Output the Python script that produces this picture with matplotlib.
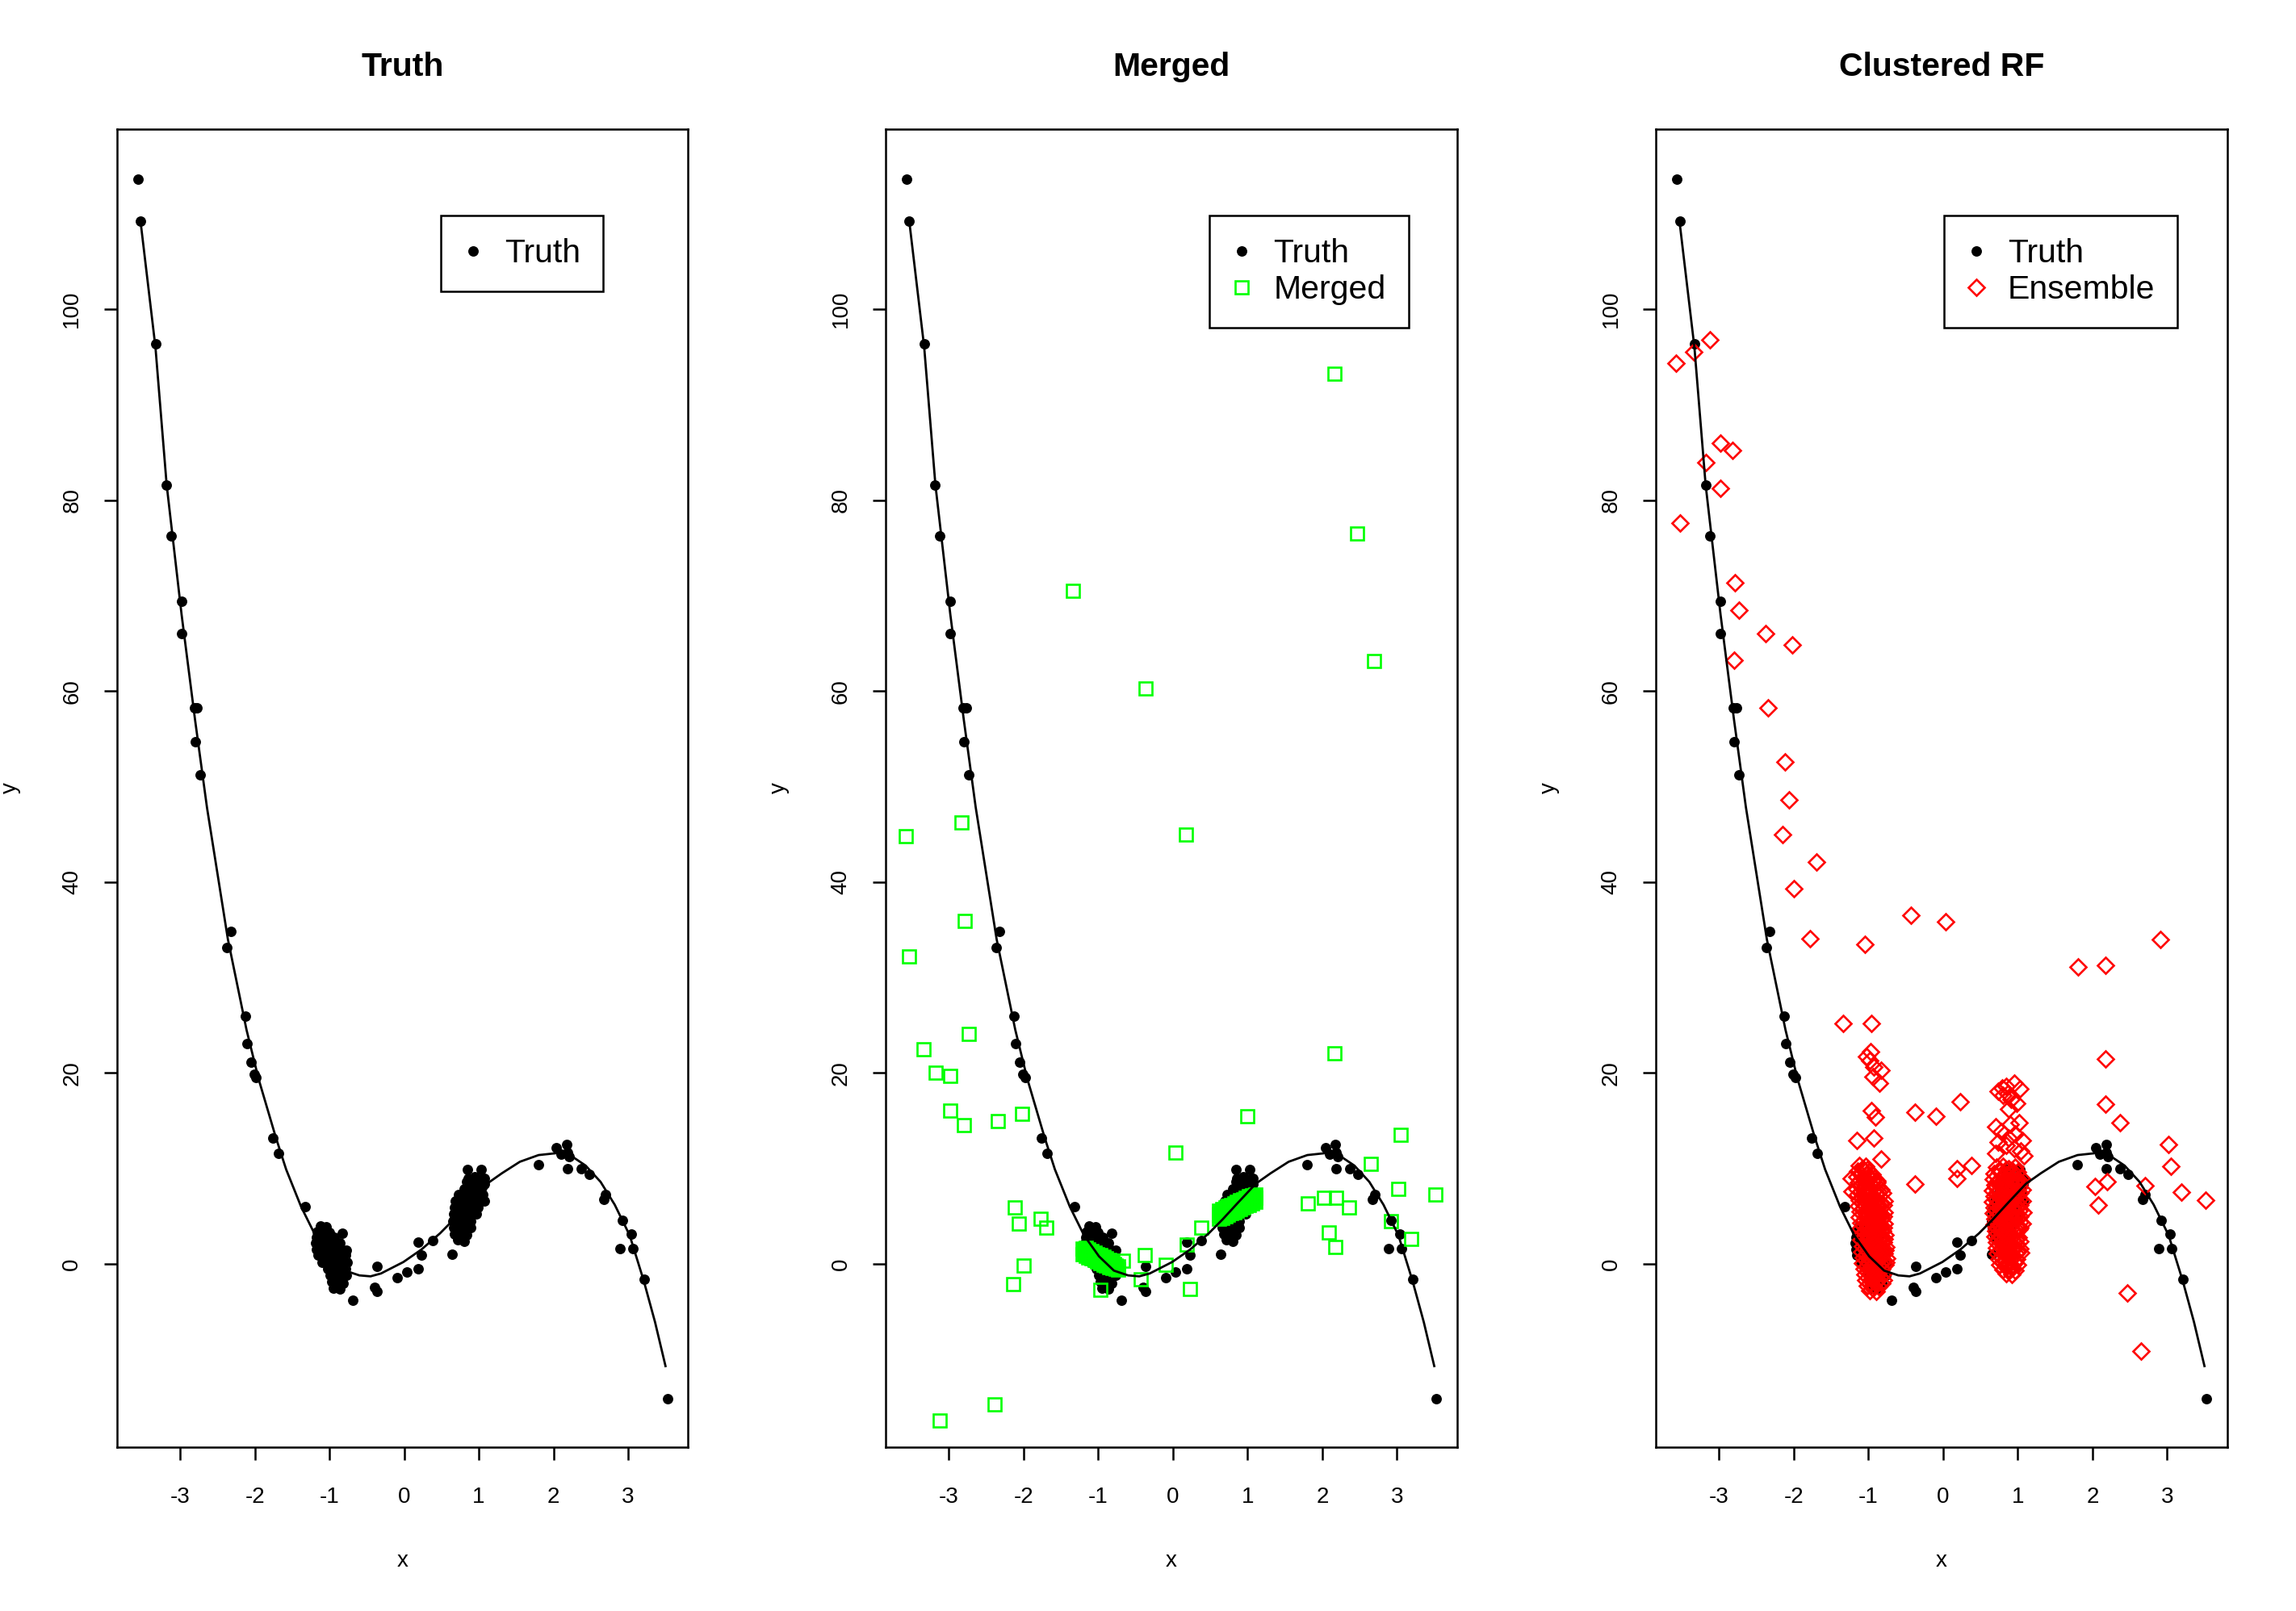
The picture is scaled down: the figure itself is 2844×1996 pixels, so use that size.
import matplotlib
matplotlib.use("Agg")
import matplotlib.pyplot as plt

plt.rcParams['font.family'] = ['Liberation Sans', 'DejaVu Sans']
plt.rcParams['axes.unicode_minus'] = False

# ---- truth: fitted curve ----
curve_x = [-3.53, -3.33, -3.18, -2.98, -2.80, -2.64, -2.36, -2.11, -1.95, -1.72,
           -1.58, -1.38, -1.19, -0.99, -0.79, -0.60, -0.45, -0.31, -0.01, 0.23,
           0.48, 0.67, 0.87, 1.11, 1.31, 1.55, 1.80, 2.04, 2.24, 2.43,
           2.63, 2.82, 3.02, 3.21, 3.36, 3.50]
curve_y = [109.2, 96.0, 81.6, 68.0, 57.0, 47.8, 34.0, 24.5, 19.4, 13.3,
           9.9, 6.0, 3.0, 0.8, -0.7, -1.2, -1.3, -1.0, 0.2, 1.5,
           3.2, 4.7, 6.4, 8.4, 9.5, 10.7, 11.4, 11.6, 11.3, 10.3,
           8.6, 6.2, 3.0, -1.8, -6.1, -10.7]

# ---- truth: observations outside the two clusters ----
truth_x = [-3.564, -3.528, -3.33, -3.182, -3.124, -2.98, -2.98, -2.81, -2.77, -2.80, -2.73,
           -2.325, -2.37, -2.13, -2.105, -2.05, -2.01, -1.98, -1.76, -1.685, -1.32,
           -0.825, -0.69, -0.367, -0.40, -0.367, -0.096, 0.037, 0.184, 0.184, 0.231, 0.379, 0.645,
           1.80, 2.04, 2.18, 2.19, 2.10, 2.21, 2.19, 2.37, 2.48, 2.70, 2.67, 2.92, 3.04, 2.89,
           3.06, 3.21, 3.53]
truth_y = [113.6, 109.2, 96.4, 81.6, 76.2, 69.4, 66.0, 58.2, 58.2, 54.7, 51.2,
           34.8, 33.1, 25.95, 23.1, 21.1, 19.9, 19.5, 13.2, 11.6, 6.0,
           3.2, -3.8, -0.26, -2.43, -2.88, -1.47, -0.81, -0.54, 2.29, 0.92, 2.48, 1.01,
           10.4, 12.2, 12.5, 11.7, 11.5, 11.2, 10.0, 10.0, 9.4, 7.3, 6.8, 4.6, 3.1, 1.6,
           1.6, -1.6, -14.1]

# truth cluster near x = -1
truth_c1_x = [-1.12, -1.04, -1.16, -1.08, -1.00, -1.17, -1.09, -1.01, -0.94,
              -1.18, -1.10, -1.02, -0.93, -0.86, -1.17, -1.09, -1.00, -0.92, -0.84, -0.77,
              -1.15, -1.06, -0.97, -0.88, -0.79, -1.10, -1.01, -0.92, -0.84, -0.76,
              -1.02, -0.94, -0.86, -0.78, -0.99, -0.91, -0.83, -0.77,
              -0.97, -0.89, -0.82, -0.95, -0.86]
truth_c1_y = [4.0, 3.9, 3.4, 3.5, 3.3, 2.8, 2.9, 2.7, 2.8,
              2.2, 2.1, 2.3, 2.1, 2.2, 1.5, 1.6, 1.4, 1.6, 1.5, 1.4,
              0.9, 0.8, 1.0, 0.8, 0.9, 0.2, 0.3, 0.1, 0.3, 0.2,
              -0.5, -0.4, -0.6, -0.5, -1.2, -1.1, -1.3, -1.2,
              -1.9, -1.8, -2.0, -2.5, -2.6]

# truth cluster near x = 1
truth_c2_x = [0.85, 1.03, 0.86, 0.94, 1.02, 1.07, 0.84, 0.92, 1.00, 1.07,
              0.80, 0.88, 0.96, 1.04, 0.73, 0.81, 0.89, 0.97, 1.05,
              0.69, 0.77, 0.85, 0.93, 1.01, 1.07, 0.67, 0.75, 0.83, 0.91, 0.99,
              0.66, 0.74, 0.82, 0.90, 0.97, 0.65, 0.73, 0.81, 0.89,
              0.66, 0.74, 0.82, 0.89, 0.68, 0.76, 0.84, 0.72, 0.80]
truth_c2_y = [9.9, 9.9, 9.0, 9.1, 8.9, 9.0, 8.6, 8.5, 8.7, 8.4,
              7.9, 8.0, 7.8, 8.0, 7.3, 7.2, 7.4, 7.2, 7.3,
              6.6, 6.7, 6.5, 6.7, 6.5, 6.6, 5.9, 6.0, 5.8, 6.0, 5.9,
              5.2, 5.3, 5.1, 5.3, 5.2, 4.5, 4.6, 4.4, 4.5,
              3.8, 3.9, 3.7, 3.8, 3.1, 3.2, 3.0, 2.5, 2.4]

# ---- merged predictions ----
merged_x = [2.167, 2.467, 2.693, -1.334, -0.371, 0.179, -3.572, -2.826, -2.787, -3.528,
            -2.733, -3.337, -3.18, -2.983, -2.983, -2.80, -2.345, -2.02, 2.167, 0.999,
            0.036, 3.046, 2.649, 3.017, 3.52, 1.804, 2.025, 2.19, 2.36, 2.918,
            2.084, 2.172, 3.194, -2.119, -2.06, -1.775, -1.697, -2.001, -2.139, 0.382,
            0.184, -0.374, -0.094, -0.429, 0.231, -0.969, -0.663, -3.126, -2.384]
merged_y = [93.2, 76.5, 63.1, 70.5, 60.3, 45.0, 44.8, 46.2, 35.9, 32.2,
            24.1, 22.5, 20.0, 19.7, 16.1, 14.5, 15.0, 15.7, 22.1, 15.5,
            11.7, 13.5, 10.5, 7.85, 7.3, 6.35, 6.9, 6.9, 5.9, 4.5,
            3.3, 1.8, 2.6, 5.9, 4.2, 4.7, 3.8, -0.2, -2.1, 3.83,
            2.06, 0.96, -0.12, -1.58, -2.65, -2.70, 0.31, -16.4, -14.7]

merged_c1_x = [-1.21, -1.21, -1.17, -1.17, -1.17, -1.13, -1.13, -1.13,
               -1.09, -1.09, -1.09, -1.05, -1.05, -1.05, -1.01, -1.01, -1.01,
               -0.97, -0.97, -0.97, -0.93, -0.93, -0.93, -0.89, -0.89, -0.89,
               -0.85, -0.85, -0.85, -0.81, -0.81, -0.81, -0.77, -0.77, -0.73, -0.73,
               -1.19, -1.19, -1.15, -1.15, -1.11, -1.11, -1.07, -1.07, -1.03, -1.03,
               -0.99, -0.99, -0.95, -0.95, -0.91, -0.91, -0.87, -0.87, -0.83, -0.83,
               -0.79, -0.79, -0.75]
merged_c1_y = [1.0, 1.6, 0.85, 1.25, 1.65, 0.7, 1.1, 1.5,
               0.55, 0.95, 1.35, 0.4, 0.8, 1.2, 0.25, 0.65, 1.05,
               0.1, 0.5, 0.9, -0.05, 0.35, 0.75, -0.2, 0.2, 0.6,
               -0.35, 0.05, 0.45, -0.45, -0.1, 0.3, -0.55, -0.2, -0.6, -0.25,
               1.13, 1.53, 0.98, 1.38, 0.83, 1.23, 0.68, 1.08, 0.53, 0.93,
               0.38, 0.78, 0.23, 0.63, 0.08, 0.48, -0.07, 0.33, -0.22, 0.18,
               -0.37, 0.03, -0.45]

merged_c2_x = [0.62, 0.62, 0.62, 0.66, 0.66, 0.66, 0.70, 0.70, 0.70,
               0.74, 0.74, 0.74, 0.78, 0.78, 0.78, 0.82, 0.82, 0.82,
               0.86, 0.86, 0.86, 0.90, 0.90, 0.90, 0.94, 0.94, 0.94,
               0.98, 0.98, 0.98, 1.02, 1.02, 1.02, 1.06, 1.06, 1.06,
               1.10, 1.10, 1.10,
               0.64, 0.64, 0.68, 0.68, 0.72, 0.72, 0.76, 0.76, 0.80, 0.80,
               0.84, 0.84, 0.88, 0.88, 0.92, 0.92, 0.96, 0.96, 1.00, 1.00,
               1.04, 1.04, 1.08, 1.08]
merged_c2_y = [4.7, 5.15, 5.6, 4.85, 5.3, 5.75, 5.0, 5.45, 5.9,
               5.15, 5.6, 6.05, 5.3, 5.75, 6.2, 5.45, 5.9, 6.35,
               5.6, 6.05, 6.5, 5.75, 6.2, 6.65, 5.9, 6.35, 6.8,
               6.05, 6.5, 6.95, 6.2, 6.65, 7.1, 6.35, 6.8, 7.2,
               6.5, 6.9, 7.3,
               5.0, 5.45, 5.15, 5.6, 5.3, 5.75, 5.45, 5.9, 5.6, 6.05,
               5.75, 6.2, 5.9, 6.35, 6.05, 6.5, 6.2, 6.65, 6.35, 6.8,
               6.5, 6.95, 6.65, 7.1]

# ---- clustered RF ensemble predictions ----
ens_x = [-3.574, -3.338, -3.127, -2.984, -2.822, -3.181, -2.984, -3.525, -2.788, -2.734,
         -2.38, -2.022, -2.798, -2.341, -2.12, -2.061, -2.145, -1.693, -2.002, -1.777,
         -1.05, -0.431, 0.035, 1.808, 2.171, 2.913, -1.335, -0.966, 2.171,
         -1.03, -0.97, -0.98, -0.83, -0.94, -0.85, -0.93,
         -0.377, -0.097, 0.227, 2.171, 2.367, -0.96, -0.91,
         0.74, 0.84, 1.03, 0.91, 0.79, 0.87, 0.80, 0.95, 0.88, 0.98,
         3.02, 3.045, 3.19, 3.52, 2.70, 2.196, 2.029, 2.078, 0.188, 0.188,
         0.384, -0.377, 2.47, 2.652, -1.15, -0.93, -0.83, -1.23, -1.22]
ens_y = [94.3, 95.5, 96.8, 86.0, 85.2, 83.9, 81.2, 77.6, 71.3, 68.5,
         66.0, 64.8, 63.2, 58.2, 52.6, 48.6, 45.0, 42.1, 39.3, 34.1,
         33.5, 36.5, 35.8, 31.1, 31.3, 34.0, 25.2, 25.2, 21.5,
         21.7, 22.2, 21.3, 20.3, 19.6, 18.9, 20.6,
         15.9, 15.5, 16.95, 16.7, 14.8, 16.1, 15.4,
         18.1, 18.6, 18.3, 17.2, 18.4, 17.8, 17.7, 18.9, 16.2, 16.8,
         12.5, 10.2, 7.5, 6.7, 8.2, 8.6, 8.1, 6.2, 10.0, 9.0,
         10.3, 8.4, -3.05, -9.1, 12.9, 13.2, 11.0, 9.0, 7.6]

ens_c1_x = [-1.12, -1.04,
            -1.14, -1.06, -0.99,
            -1.15, -1.07, -0.99, -0.92,
            -1.13, -1.05, -0.97, -0.89,
            -1.15, -1.07, -0.99, -0.91, -0.83,
            -1.14, -1.06, -0.98, -0.90, -0.81,
            -1.12, -1.04, -0.96, -0.88, -0.79,
            -1.13, -1.05, -0.97, -0.89, -0.80,
            -1.11, -1.03, -0.95, -0.87, -0.79,
            -1.12, -1.04, -0.96, -0.88, -0.80,
            -1.10, -1.02, -0.94, -0.86, -0.79,
            -1.11, -1.03, -0.95, -0.87, -0.80,
            -1.09, -1.01, -0.93, -0.85, -0.78,
            -1.10, -1.02, -0.94, -0.86, -0.79,
            -1.08, -1.00, -0.92, -0.84, -0.77,
            -1.09, -1.01, -0.93, -0.85, -0.78,
            -1.07, -0.99, -0.91, -0.83, -0.76,
            -1.08, -1.00, -0.92, -0.84, -0.77,
            -1.06, -0.98, -0.90, -0.82,
            -1.05, -0.97, -0.89, -0.81,
            -1.04, -0.96, -0.88, -0.80,
            -1.02, -0.94, -0.86,
            -0.98, -0.90,
            # second, staggered layer
            -1.08, -1.01,
            -1.10, -1.03, -0.95,
            -1.11, -1.03, -0.95, -0.88,
            -1.11, -1.03, -0.95, -0.87,
            -1.10, -1.02, -0.94, -0.86,
            -1.09, -1.01, -0.93, -0.85,
            -1.08, -1.00, -0.92, -0.84,
            -1.07, -0.99, -0.91, -0.83,
            -1.08, -1.00, -0.92, -0.84,
            -1.06, -0.98, -0.90, -0.82,
            -1.07, -0.99, -0.91, -0.83,
            -1.05, -0.97, -0.89, -0.81,
            -1.06, -0.98, -0.90, -0.82,
            -1.04, -0.96, -0.88, -0.80,
            -1.05, -0.97, -0.89, -0.81,
            -1.03, -0.95, -0.87, -0.79,
            -1.04, -0.96, -0.88, -0.80,
            -1.02, -0.94, -0.86, -0.78,
            -1.01, -0.93, -0.85,
            -1.00, -0.92, -0.84,
            -0.98, -0.90, -0.82,
            -0.94]
ens_c1_y = [10.3, 10.2,
            9.7, 9.8, 9.6,
            9.1, 9.0, 9.2, 9.0,
            8.5, 8.6, 8.4, 8.5,
            7.9, 7.8, 8.0, 7.9, 7.8,
            7.3, 7.4, 7.2, 7.3, 7.4,
            6.7, 6.6, 6.8, 6.7, 6.6,
            6.1, 6.2, 6.0, 6.1, 6.2,
            5.5, 5.4, 5.6, 5.5, 5.4,
            4.9, 5.0, 4.8, 4.9, 5.0,
            4.3, 4.2, 4.4, 4.3, 4.2,
            3.7, 3.8, 3.6, 3.7, 3.8,
            3.1, 3.0, 3.2, 3.1, 3.0,
            2.5, 2.6, 2.4, 2.5, 2.6,
            1.9, 1.8, 2.0, 1.9, 1.8,
            1.3, 1.4, 1.2, 1.3, 1.4,
            0.7, 0.6, 0.8, 0.7, 0.6,
            0.1, 0.2, 0.0, 0.1, 0.2,
            -0.5, -0.4, -0.6, -0.5,
            -1.1, -1.0, -1.2, -1.1,
            -1.7, -1.6, -1.8, -1.7,
            -2.3, -2.2, -2.4,
            -2.8, -2.9,
            # second, staggered layer
            10.0, 9.9,
            9.4, 9.3, 9.4,
            8.8, 8.7, 8.8, 8.7,
            8.2, 8.1, 8.2, 8.1,
            7.6, 7.5, 7.6, 7.5,
            7.0, 7.1, 7.0, 7.1,
            6.4, 6.3, 6.4, 6.3,
            5.8, 5.9, 5.8, 5.9,
            5.2, 5.1, 5.2, 5.1,
            4.6, 4.7, 4.6, 4.7,
            4.0, 3.9, 4.0, 3.9,
            3.4, 3.5, 3.4, 3.5,
            2.8, 2.7, 2.8, 2.7,
            2.2, 2.3, 2.2, 2.3,
            1.6, 1.5, 1.6, 1.5,
            1.0, 1.1, 1.0, 1.1,
            0.4, 0.3, 0.4, 0.3,
            -0.2, -0.1, -0.2, -0.1,
            -0.8, -0.7, -0.8,
            -1.4, -1.3, -1.4,
            -2.0, -1.9, -2.0,
            -2.55]

ens_c2_x = [0.72, 0.80, 0.88, 0.96,
            0.68, 0.76, 0.84, 0.92, 1.00,
            0.67, 0.75, 0.83, 0.91, 0.99, 1.05,
            0.69, 0.77, 0.85, 0.93, 1.01,
            0.66, 0.74, 0.82, 0.90, 0.98, 1.06,
            0.68, 0.76, 0.84, 0.92, 1.00,
            0.66, 0.74, 0.82, 0.90, 0.98, 1.06,
            0.68, 0.76, 0.84, 0.92, 1.00,
            0.67, 0.75, 0.83, 0.91, 0.99, 1.07,
            0.69, 0.77, 0.85, 0.93, 1.01,
            0.68, 0.76, 0.84, 0.92, 1.00, 1.06,
            0.70, 0.78, 0.86, 0.94, 1.02,
            0.69, 0.77, 0.85, 0.93, 1.01,
            0.71, 0.79, 0.87, 0.95, 1.03,
            0.72, 0.80, 0.88, 0.96, 1.03,
            0.73, 0.81, 0.89, 0.97, 1.04,
            0.75, 0.83, 0.91, 0.99,
            0.76, 0.84, 0.92, 1.00,
            0.80, 0.88, 0.96,
            0.84, 0.92,
            0.70, 0.78, 0.90, 1.02, 0.96, 1.06, 0.74, 0.84, 0.95, 1.04, 0.70, 0.88, 1.08,
            # second, staggered layer
            0.76, 0.84, 0.92,
            0.72, 0.80, 0.88, 0.96,
            0.73, 0.81, 0.89, 0.97, 1.04,
            0.70, 0.78, 0.86, 0.94, 1.02,
            0.71, 0.79, 0.87, 0.95, 1.03,
            0.70, 0.78, 0.86, 0.94, 1.02,
            0.71, 0.79, 0.87, 0.95, 1.03,
            0.70, 0.78, 0.86, 0.94, 1.02,
            0.72, 0.80, 0.88, 0.96, 1.03,
            0.71, 0.79, 0.87, 0.95, 1.03,
            0.72, 0.80, 0.88, 0.96, 1.03,
            0.73, 0.81, 0.89, 0.97,
            0.73, 0.81, 0.89, 0.97,
            0.75, 0.83, 0.91, 0.99,
            0.76, 0.84, 0.92, 1.00,
            0.78, 0.86, 0.94,
            0.80, 0.88, 0.96,
            0.84, 0.92]
ens_c2_y = [10.1, 10.2, 10.0, 10.1,
            9.5, 9.6, 9.4, 9.5, 9.6,
            8.9, 8.8, 9.0, 8.9, 8.8, 9.0,
            8.3, 8.4, 8.2, 8.3, 8.4,
            7.7, 7.6, 7.8, 7.7, 7.6, 7.8,
            7.1, 7.2, 7.0, 7.1, 7.2,
            6.5, 6.4, 6.6, 6.5, 6.4, 6.6,
            5.9, 6.0, 5.8, 5.9, 6.0,
            5.3, 5.2, 5.4, 5.3, 5.2, 5.4,
            4.7, 4.8, 4.6, 4.7, 4.8,
            4.1, 4.0, 4.2, 4.1, 4.0, 4.2,
            3.5, 3.6, 3.4, 3.5, 3.6,
            2.9, 2.8, 3.0, 2.9, 2.8,
            2.3, 2.4, 2.2, 2.3, 2.4,
            1.7, 1.6, 1.8, 1.7, 1.6,
            1.1, 1.2, 1.0, 1.1, 1.2,
            0.5, 0.4, 0.6, 0.5,
            -0.1, 0.0, -0.2, -0.1,
            -0.6, -0.5, -0.7,
            -1.0, -1.1,
            14.4, 13.9, 14.6, 14.8, 13.6, 12.9, 12.8, 12.4, 12.1, 11.8, 11.6, 13.2, 11.3,
            # second, staggered layer
            9.8, 9.9, 9.8,
            9.2, 9.1, 9.2, 9.1,
            8.6, 8.5, 8.6, 8.5, 8.6,
            8.0, 8.1, 8.0, 8.1, 8.0,
            7.4, 7.3, 7.4, 7.3, 7.4,
            6.8, 6.9, 6.8, 6.9, 6.8,
            6.2, 6.1, 6.2, 6.1, 6.2,
            5.6, 5.7, 5.6, 5.7, 5.6,
            5.0, 4.9, 5.0, 4.9, 5.0,
            4.4, 4.5, 4.4, 4.5, 4.4,
            3.8, 3.7, 3.8, 3.7, 3.8,
            3.2, 3.3, 3.2, 3.3,
            2.6, 2.5, 2.6, 2.5,
            2.0, 2.1, 2.0, 2.1,
            1.4, 1.3, 1.4, 1.3,
            0.8, 0.9, 0.8,
            0.2, 0.1, 0.2,
            -0.35, -0.4]

titles = ["Truth", "Merged", "Clustered RF"]
x_ticks = [-3, -2, -1, 0, 1, 2, 3]
y_ticks = [0, 20, 40, 60, 80, 100]

W, H = 1568.0, 1100.0
panel_left = [80, 605, 1131]
legend_left = [0.567, 0.567, 0.504]

fig = plt.figure(figsize=(28.44, 19.96), dpi=100)

DOT = dict(linestyle="none", marker="o", color="black", ms=9.3, mec="none")


def setup_axes(ax, title):
    ax.set_xlim(-3.843, 3.804)
    ax.set_ylim(-19.17, 118.87)
    ax.set_xticks(x_ticks)
    ax.set_yticks(y_ticks)
    for sp in ax.spines.values():
        sp.set_linewidth(1.8)
    ax.tick_params(axis="both", length=11.8, width=1.8, labelsize=20)
    ax.tick_params(axis="x", pad=24)
    ax.tick_params(axis="y", pad=19, labelrotation=90)
    for lab in ax.get_yticklabels():
        lab.set_verticalalignment("center")
    ax.set_title(title, fontsize=29.5, fontweight="bold", pad=47)
    ax.text(0.5, -0.0867, "x", transform=ax.transAxes, ha="center", va="center", fontsize=20)
    ax.text(-73 / 390, 0.5, "y", transform=ax.transAxes, ha="center", va="center",
            rotation=90, fontsize=20)


def add_legend(ax, handles, labels, lx):
    leg = ax.legend(handles, labels, loc="upper left", bbox_to_anchor=(lx, 0.934),
                    borderaxespad=0, fontsize=29.5, fancybox=False, edgecolor="black",
                    framealpha=1, borderpad=0.68, labelspacing=0.16,
                    handlelength=0.58, handletextpad=0.67)
    leg.get_frame().set_linewidth(1.8)


for i, title in enumerate(titles):
    ax = fig.add_axes([panel_left[i] / W, 1 - 988 / H, 390 / W, 900 / H])
    setup_axes(ax, title)

    h_truth, = ax.plot(truth_x + truth_c1_x + truth_c2_x,
                       truth_y + truth_c1_y + truth_c2_y, **DOT)
    handles, labels = [h_truth], ["Truth"]

    if i == 1:
        h_m, = ax.plot(merged_x + merged_c1_x + merged_c2_x,
                       merged_y + merged_c1_y + merged_c2_y,
                       linestyle="none", marker="s", ms=11, mfc="none",
                       mec="#00ff00", mew=1.9)
        handles.append(h_m)
        labels.append("Merged")
    elif i == 2:
        h_e, = ax.plot(ens_x + ens_c1_x + ens_c2_x,
                       ens_y + ens_c1_y + ens_c2_y,
                       linestyle="none", marker="D", ms=10.5, mfc="none",
                       mec="#ff0000", mew=1.9)
        handles.append(h_e)
        labels.append("Ensemble")

    ax.plot(curve_x, curve_y, color="black", lw=2.0)
    add_legend(ax, handles, labels, legend_left[i])

fig.savefig("out.png", dpi=100)
